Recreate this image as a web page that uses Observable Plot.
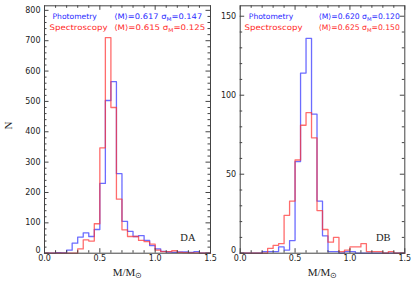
<!DOCTYPE html>
<html><head><meta charset="utf-8">
<script src="https://cdn.jsdelivr.net/npm/d3@7"></script>
<script src="https://cdn.jsdelivr.net/npm/@observablehq/plot@0.6"></script>
<style>
html,body{margin:0;padding:0;background:#fff;}
#wrap{position:relative;width:415px;height:285px;overflow:hidden;}
#wrap svg{position:absolute;top:0;background:transparent;}
</style></head>
<body><div id="wrap"></div>
<script>
// Bin left edges (M/Msun), bin width 0.05
const edges = [0.00,0.05,0.10,0.15,0.20,0.25,0.30,0.35,0.40,0.45,0.50,0.55,0.60,0.65,0.70,0.75,0.80,0.85,0.90,0.95,1.00,1.05,1.10,1.15,1.20,1.25,1.30,1.35,1.40,1.45];
const xEnd = 1.5;
// DA panel
const daPhot = [0,0,2,1,10,33,53,67,55,78,230,503,565,262,105,72,55,58,42,25,14,6,4,3,4,4,3,5,0,0];
const daSpec = [0,0,0,0,0,0,14,44,40,97,347,710,480,178,77,55,55,42,38,30,10,5,5,8,3,2,1,1,0,0];
// DB panel
const dbPhot = [0,0,0,0,1,1,1,4,2,8,58,114,136,88,33,11,1,1,0,1,1,0,0,0,0,0,0,0,0,0];
const dbSpec = [0,0,0,0,0,3,5,6,24,33,59,81,89,73,27,15,7,10,1,2,4,4,6,1,1,1,0,1,0,0];
// Tick labels
const xMajor = [0, 0.5, 1.0, 1.5];
const xMinor = [0.1,0.2,0.3,0.4,0.6,0.7,0.8,0.9,1.1,1.2,1.3,1.4];
const yMajorDA = [0,100,200,300,400,500,600,700,800];
const yMajorDB = [0,50,100,150];
// Annotation texts
const photLabel = "Photometry";
const specLabel = "Spectroscopy";
const daPhotStats = "⟨M⟩=0.617 σ_M=0.147";
const daSpecStats = "⟨M⟩=0.615 σ_M=0.125";
const dbPhotStats = "⟨M⟩=0.620 σ_M=0.120";
const dbSpecStats = "⟨M⟩=0.625 σ_M=0.150";
const xLabel = "M/M_⊙";
const yLabel = "N";

const BLUE = "#2a2aff", RED = "#ff2a2a", AX = "#444";
const textWidths = {};
textWidths[specLabel] = 58;
textWidths[daPhotStats] = 88;
textWidths[daSpecStats] = 91;
textWidths[dbPhotStats] = 81;
textWidths[dbSpecStats] = 81;

function steps(vals){
  return edges.map((x,i)=>({x, n: vals[i]})).concat([{x: xEnd, n: vals[vals.length-1]}]);
}

function panel(o){
  const H = 285, W = o.width;
  const fh = H - o.mt - o.mb, fw = W - o.ml - o.mr;
  const yMinor = d3.range(0, o.ymax, o.minorStep).filter(v => v % o.majorStep !== 0);
  const ann = (txt, dx, dy, fill, cls) => Plot.text([txt], {text: d=>d, frameAnchor:"top-left", dx, dy, textAnchor:"start", lineAnchor:"middle", fill, fontSize: 7.6, fontFamily:"DejaVu Sans", className: cls});
  const yLab = {tickSize: 0, tickPadding: 4, tickFormat: d=>String(d), fontSize: 8, fontFamily:"DejaVu Sans", fill:"#222", label: null};
  const svg = Plot.plot({
    width: W, height: H,
    marginTop: o.mt, marginBottom: o.mb, marginLeft: o.ml, marginRight: o.mr,
    style: {background:"transparent", overflow:"visible"},
    x: {domain:[0, 1.5]},
    y: {domain:[0, o.ymax]},
    marks: [
      Plot.line(steps(o.phot), {x:"x", y:"n", curve:"step-after", stroke:"#3333ff", strokeOpacity:0.72, strokeWidth:1.3}),
      Plot.line(steps(o.spec), {x:"x", y:"n", curve:"step-after", stroke:"#ff3333", strokeOpacity:0.72, strokeWidth:1.3}),
      Plot.frame({stroke: AX, strokeWidth: 1}),
      // inward ticks, all four sides
      Plot.tickX(xMajor, {x: d=>d, insetTop: fh - 4.5, stroke: AX}),
      Plot.tickX(xMajor, {x: d=>d, insetBottom: fh - 4.5, stroke: AX}),
      Plot.tickX(xMinor, {x: d=>d, insetTop: fh - 2.5, stroke: AX}),
      Plot.tickX(xMinor, {x: d=>d, insetBottom: fh - 2.5, stroke: AX}),
      Plot.tickY(o.yMajor, {y: d=>d, insetRight: fw - 4.5, stroke: AX}),
      Plot.tickY(o.yMajor, {y: d=>d, insetLeft: fw - 4.5, stroke: AX}),
      Plot.tickY(yMinor, {y: d=>d, insetRight: fw - 2.5, stroke: AX}),
      Plot.tickY(yMinor, {y: d=>d, insetLeft: fw - 2.5, stroke: AX}),
      Plot.axisX(xMajor, {tickSize: 0, tickPadding: 2.5, tickFormat: d3.format(".1f"), fontSize: 8, fontFamily:"DejaVu Sans", fill:"#222", label: null}),
      Plot.axisY(o.yMajor.filter(v => v !== 0), yLab),
      Plot.axisY([0], {...yLab, dy: -3}),
      ann(photLabel, o.photDx, 10.4, BLUE, "ann"),
      ann(o.photStats, o.statsDx, 10.4, BLUE, "ann"),
      ann(specLabel, o.specDx, 21.4, RED, "ann"),
      ann(o.specStats, o.statsDx, 21.4, RED, "ann"),
      Plot.text([o.tag], {text:d=>d, frameAnchor:"bottom-right", dx: o.tagDx, dy: -15.7, textAnchor:"end", lineAnchor:"middle", fontSize: 10.5, fontFamily:"Liberation Serif", fill:"#222"}),
      Plot.text([xLabel], {text:d=>d, frameAnchor:"bottom", dx: 0, dy: 19.5, lineAnchor:"middle", fontSize: 11, fontFamily:"Liberation Serif", fill:"#222"}),
      ...(o.yTitle ? [Plot.text([yLabel], {text:d=>d, frameAnchor:"left", dx: -36, dy: 0, rotate: -90, lineAnchor:"middle", fontSize: 11, fontFamily:"Liberation Serif", fill:"#222"})] : [])
    ]
  });
  svg.style.left = o.left + "px";
  // subscripts and widths
  d3.select(svg).selectAll("text").each(function(){
    const t = this.textContent;
    if (this.childElementCount === 0 && t.includes("_")) {
      const i = t.indexOf("_");
      const before = t.slice(0, i), sub = t.slice(i+1, i+2), after = t.slice(i+2);
      const sel = d3.select(this);
      sel.text(null);
      sel.append("tspan").text(before);
      sel.append("tspan").attr("dy", 2.2).attr("font-size", "70%").text(sub);
      sel.append("tspan").attr("dy", -2.2).text(after);
    }
    if (textWidths[t]) {
      this.setAttribute("textLength", textWidths[t]);
      this.setAttribute("lengthAdjust", "spacingAndGlyphs");
    }
  });
  return svg;
}

const wrap = document.getElementById("wrap");
wrap.appendChild(panel({
  left: 0, width: 212, mt: 5.3, mb: 32.3, ml: 44, mr: 2,
  ymax: 815, majorStep: 100, minorStep: 20, yMajor: yMajorDA,
  phot: daPhot, spec: daSpec,
  photDx: 8, specDx: 5, statsDx: 69.7,
  photStats: daPhotStats, specStats: daSpecStats,
  tag: "DA", tagDx: -15, yTitle: true
}));
wrap.appendChild(panel({
  left: 200, width: 207, mt: 5.3, mb: 32.3, ml: 39.7, mr: 2.7,
  ymax: 156.6, majorStep: 50, minorStep: 10, yMajor: yMajorDB,
  phot: dbPhot, spec: dbSpec,
  photDx: 8.6, specDx: 4.3, statsDx: 78.6,
  photStats: dbPhotStats, specStats: dbSpecStats,
  tag: "DB", tagDx: -14.3, yTitle: false
}));
</script></body></html>
